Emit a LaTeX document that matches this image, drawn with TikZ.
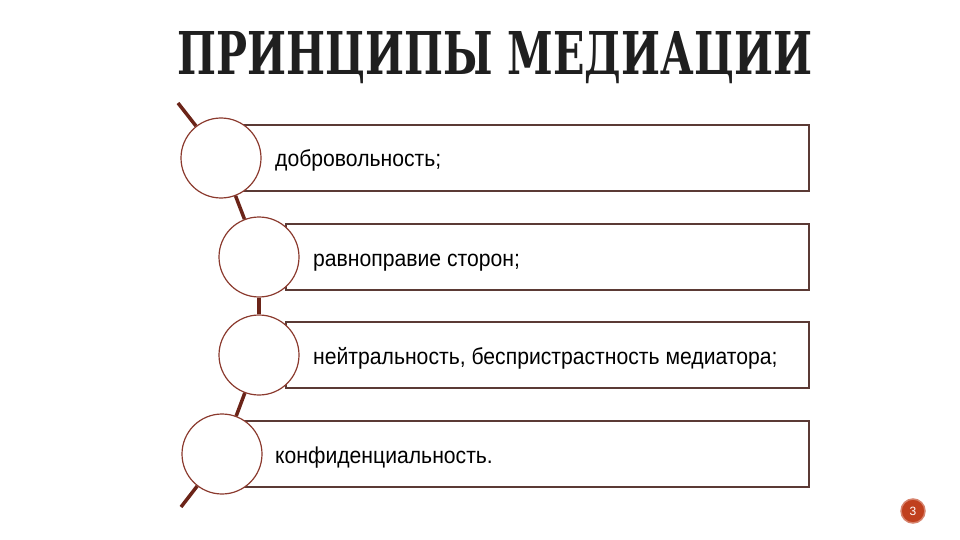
\documentclass[tikz,border=0pt]{standalone}
\usepackage{fontspec}
\setmainfont{Liberation Sans}
\newfontfamily\narrowfont{Liberation Sans}[FakeStretch=0.92]
\newfontfamily\titlefont{DejaVu Serif}
\pgfdeclarelayer{background}
\pgfsetlayers{background,main}
\definecolor{box edge}{HTML}{5B3A35}
\definecolor{circle edge}{HTML}{8B3A2E}
\definecolor{link line}{HTML}{6B2418}
\definecolor{badge}{HTML}{C0401E}
\tikzstyle{item}=[draw=box edge, line width=2pt, fill=white, minimum height=66pt, inner sep=0pt, anchor=west]
\tikzstyle{bullet}=[circle, draw=circle edge, line width=1.2pt, fill=white, minimum size=80pt, inner sep=0pt]
\tikzstyle{link}=[draw=link line, line width=3.5pt, -]
\tikzstyle{item text}=[anchor=base west, inner sep=0pt, font=\narrowfont\fontsize{23}{27}\selectfont]

\begin{document}
\begin{tikzpicture}[x=1pt, y=-1pt]
    \useasboundingbox (0,0) rectangle (960,540);

    \node[inner sep=0pt, text=black!88] (title) at (495,58)
      {\resizebox{634pt}{43pt}{\titlefont\bfseries ПРИНЦИПЫ МЕДИАЦИИ}};

    % the boxes go behind the circles
    \begin{pgfonlayer}{background}
      \foreach \pos/\len/\name in {{(240,158)/568/b1}, {(285,257)/523/b2}, {(285,355)/523/b3}, {(240,454)/568/b4}}
        \node[item, minimum width=\len pt] (\name) at \pos {};
    \end{pgfonlayer}

    \foreach \pos/\name in {{(221,158)/c1}, {(259,257)/c2}, {(259,355)/c3}, {(222,454)/c4}}
      \node[bullet] (\name) at \pos {};

    \coordinate (top) at (178,103);
    \coordinate (bottom) at (181,507);
    \foreach \source/\sink in {top/c1, c1/c2, c2/c3, c3/c4, c4/bottom}
      \path[link] (\source) -- (\sink);

    \node[item text] (t1) at (275,167) {добровольность;};
    \node[item text] (t2) at (313,266) {равноправие сторон;};
    \node[item text] (t3) at (313,364) {нейтральность, беспристрастность медиатора;};
    \node[item text] (t4) at (275,463) {конфиденциальность.};

    \node[circle, fill=badge, draw=badge!65!white, line width=1.5pt, minimum size=24pt, inner sep=0pt,
      text=white, font=\fontsize{12}{12}\selectfont] (page) at (913,511) {3};
\end{tikzpicture}
\end{document}
